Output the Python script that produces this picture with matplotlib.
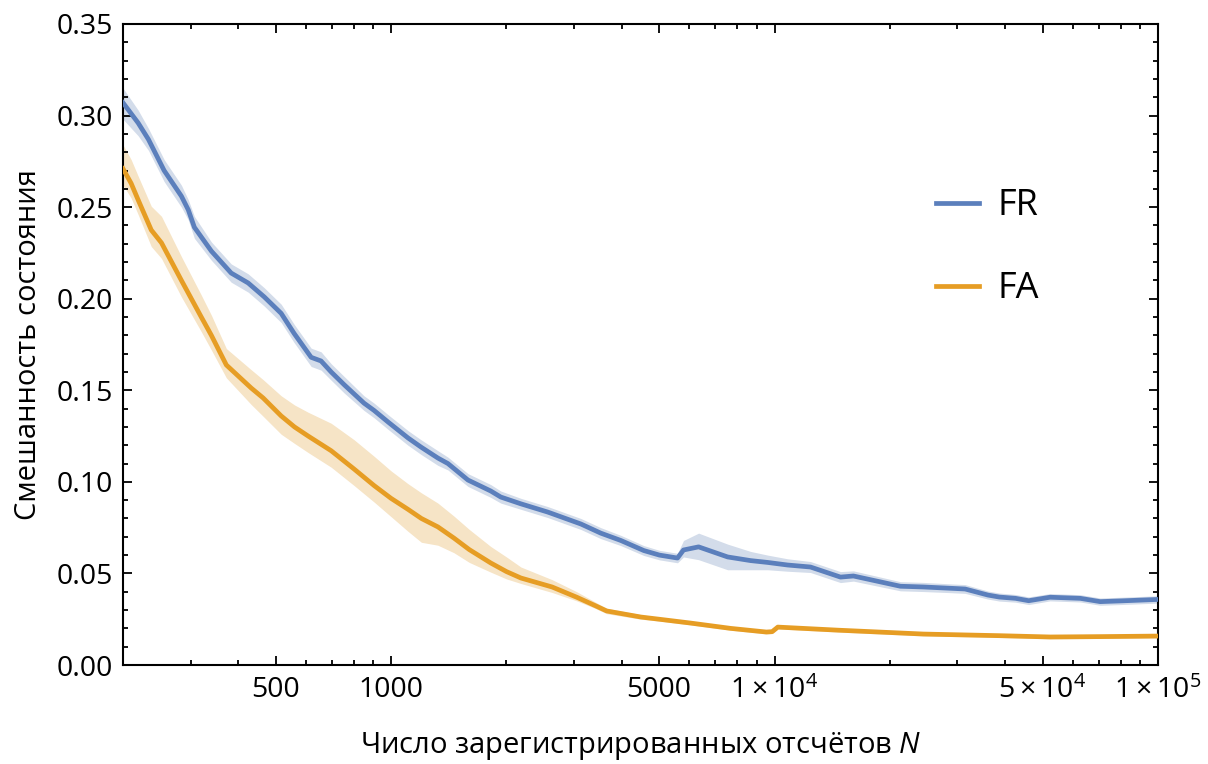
import matplotlib
matplotlib.use('Agg')
import matplotlib.pyplot as plt
from matplotlib.ticker import FixedLocator, NullFormatter

# ---------------- data ----------------
N_fr = [200, 219, 233, 256, 284, 296, 307, 340, 383, 424,
        467, 517, 559, 619, 657, 698, 755, 850, 903, 982,
        1107, 1197, 1325, 1407, 1587, 1820, 1933, 2181, 2563, 3126,
        3523, 3973, 4561, 5012, 5585, 5790, 6339, 7546, 8665, 9600,
        10810, 12410, 14860, 16060, 21290, 24450, 28710, 31400, 36000, 38560,
        42500, 46000, 52300, 62700, 70670, 80000, 100000]
y_fr = [0.307, 0.296, 0.287, 0.270, 0.256, 0.2485, 0.239, 0.226, 0.214, 0.2086,
        0.201, 0.192, 0.181, 0.168, 0.166, 0.160, 0.153, 0.143, 0.139, 0.1327,
        0.124, 0.119, 0.113, 0.110, 0.101, 0.095, 0.0917, 0.088, 0.0835, 0.077,
        0.072, 0.068, 0.0625, 0.060, 0.0584, 0.0628, 0.0645, 0.059, 0.057, 0.056,
        0.0546, 0.0535, 0.048, 0.0486, 0.043, 0.0426, 0.0419, 0.0415, 0.0382, 0.0371,
        0.0364, 0.0351, 0.037, 0.0364, 0.0346, 0.035, 0.0358]
fr_hi = [0.315, 0.303, 0.293, 0.276, 0.262, 0.254, 0.245, 0.231, 0.219, 0.2136,
         0.206, 0.197, 0.186, 0.173, 0.171, 0.1645, 0.1575, 0.147, 0.143, 0.1367,
         0.128, 0.123, 0.117, 0.1135, 0.1045, 0.0985, 0.095, 0.091, 0.0865, 0.080,
         0.075, 0.0708, 0.0652, 0.0626, 0.061, 0.068, 0.072, 0.066, 0.062, 0.060,
         0.058, 0.0565, 0.051, 0.0514, 0.0455, 0.0451, 0.0443, 0.0439, 0.0404, 0.0393,
         0.0385, 0.0372, 0.039, 0.0384, 0.0366, 0.037, 0.0378]
fr_lo = [0.298, 0.289, 0.281, 0.264, 0.250, 0.243, 0.233, 0.221, 0.209, 0.2036,
         0.196, 0.187, 0.176, 0.163, 0.161, 0.1555, 0.1485, 0.139, 0.135, 0.1287,
         0.120, 0.115, 0.109, 0.1065, 0.0975, 0.0915, 0.0884, 0.085, 0.0805, 0.074,
         0.069, 0.0652, 0.0598, 0.0574, 0.0558, 0.059, 0.0575, 0.052, 0.052, 0.052,
         0.0512, 0.0505, 0.045, 0.0458, 0.0405, 0.0401, 0.0395, 0.0391, 0.036, 0.0349,
         0.0343, 0.033, 0.035, 0.0344, 0.0326, 0.033, 0.0338]

N_fa = [200, 210, 219, 237, 252, 284, 320, 340, 372, 432,
        464, 517, 560, 608, 698, 801, 903, 1000, 1107, 1200,
        1325, 1459, 1600, 1820, 2000, 2181, 2630, 3050, 3400, 3650, 4480,
        5000, 6040, 7680, 9520, 9860, 10200, 14700, 24450, 38800, 52300,
        70670, 100000]
y_fa = [0.271, 0.263, 0.254, 0.2375, 0.2305, 0.210, 0.190, 0.180, 0.1638, 0.1512,
        0.1458, 0.136, 0.130, 0.125, 0.117, 0.107, 0.098, 0.091, 0.085, 0.080,
        0.0754, 0.0693, 0.063, 0.0557, 0.051, 0.0475, 0.0426, 0.037, 0.0325, 0.0295, 0.0262,
        0.025, 0.0229, 0.020, 0.018, 0.0182, 0.0207, 0.019, 0.0169, 0.016, 0.0153,
        0.0155, 0.0158]
fa_hi = [0.284, 0.276, 0.267, 0.2505, 0.245, 0.223, 0.202, 0.191, 0.1728, 0.1612,
         0.1558, 0.147, 0.142, 0.138, 0.132, 0.123, 0.114, 0.106, 0.099, 0.094,
         0.0884, 0.0813, 0.074, 0.0647, 0.059, 0.0535, 0.0466, 0.040, 0.0345, 0.031, 0.0275,
         0.026, 0.024, 0.021, 0.019, 0.0192, 0.0217, 0.020, 0.0179, 0.017, 0.0163,
         0.0165, 0.0168]
fa_lo = [0.262, 0.255, 0.246, 0.2285, 0.222, 0.201, 0.182, 0.172, 0.1568, 0.1422,
         0.1358, 0.126, 0.121, 0.116, 0.108, 0.098, 0.089, 0.081, 0.073, 0.067,
         0.0654, 0.0613, 0.056, 0.0507, 0.047, 0.0445, 0.0396, 0.035, 0.031, 0.028, 0.025,
         0.024, 0.0219, 0.019, 0.017, 0.0172, 0.0197, 0.018, 0.0159, 0.015, 0.0143,
         0.0145, 0.0148]

series_names = ["FR", "FA"]
x_major = [500, 1000, 5000, 10000, 50000, 100000]
x_major_labels = ["500", "1000", "5000", r"$1\times10^{4}$", r"$5\times10^{4}$", r"$1\times10^{5}$"]
x_minor = [300, 400, 600, 700, 800, 900, 2000, 3000, 4000, 6000, 7000, 8000, 9000,
           20000, 30000, 40000, 60000, 70000, 80000, 90000]
y_major = [0.00, 0.05, 0.10, 0.15, 0.20, 0.25, 0.30, 0.35]
y_major_labels = ["0.00", "0.05", "0.10", "0.15", "0.20", "0.25", "0.30", "0.35"]
y_minor = [i / 100 for i in range(0, 36)]
xlabel = "Число зарегистрированных отсчётов $N$"
ylabel = "Смешанность состояния"

# ---------------- style ----------------
plt.rcParams['font.family'] = ['Open Sans', 'DejaVu Sans']
plt.rcParams['mathtext.fontset'] = 'custom'
plt.rcParams['mathtext.rm'] = 'Open Sans'
plt.rcParams['mathtext.it'] = 'Open Sans:italic'

c_fr = "#5b7fbc"
c_fa = "#e69d24"
c_fr_band = "#d3dcea"
c_fa_band = "#f6e4c6"

fig = plt.figure(figsize=(12.08, 7.64), dpi=100)
ax = fig.add_axes([123 / 1208, 99 / 764, 1035 / 1208, 641 / 764])

ax.fill_between(N_fr, fr_lo, fr_hi, color=c_fr_band, lw=0, zorder=1)
ax.fill_between(N_fa, fa_lo, fa_hi, color=c_fa_band, lw=0, zorder=1)
ax.plot(N_fr, y_fr, color=c_fr, lw=3.4, label=series_names[0], zorder=3,
        solid_joinstyle='round')
ax.plot(N_fa, y_fa, color=c_fa, lw=3.4, label=series_names[1], zorder=3,
        solid_joinstyle='round')

ax.set_xscale('log')
ax.set_xlim(200, 100000)
ax.set_ylim(0, 0.35)

ax.xaxis.set_major_locator(FixedLocator(x_major))
ax.set_xticklabels(x_major_labels)
ax.xaxis.set_minor_locator(FixedLocator(x_minor))
ax.xaxis.set_minor_formatter(NullFormatter())
ax.yaxis.set_major_locator(FixedLocator(y_major))
ax.set_yticklabels(y_major_labels)
ax.yaxis.set_minor_locator(FixedLocator(y_minor))
ax.yaxis.set_minor_formatter(NullFormatter())

ax.tick_params(which='both', direction='in', top=True, right=True, width=1.3,
               labelsize=20.5, colors='black')
ax.tick_params(which='major', length=6.5)
ax.tick_params(which='minor', length=3.3)
ax.tick_params(axis='x', which='major', pad=8)
ax.tick_params(axis='y', which='major', pad=7)
for s in ax.spines.values():
    s.set_linewidth(1.5)

ax.set_xlabel(xlabel, fontsize=21, labelpad=18)
ax.set_ylabel(ylabel, fontsize=21, labelpad=10)

leg = ax.legend(loc='upper left', bbox_to_anchor=(0.768, 0.772), frameon=False,
                fontsize=26, borderpad=0, handlelength=1.2, handletextpad=0.5,
                labelspacing=1.3)

fig.savefig("out.png", dpi=100)
